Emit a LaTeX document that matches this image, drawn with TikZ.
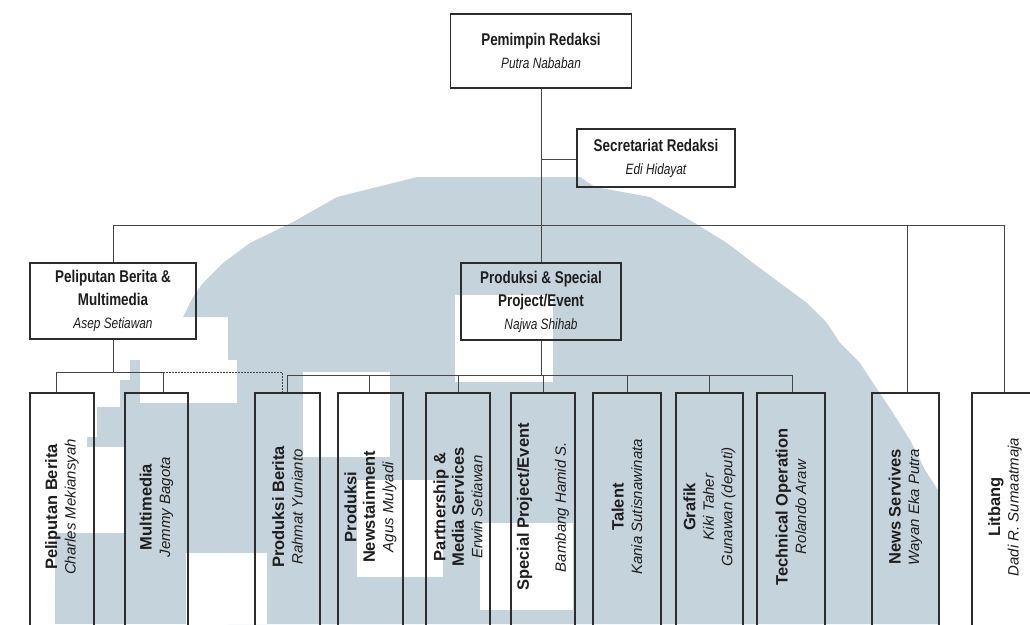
\documentclass[tikz,border=0pt]{standalone}
\usepackage{fontspec}
\setmainfont{Liberation Sans}
\newfontfamily\narrowfont{Liberation Sans}[FakeStretch=0.79]
\definecolor{wm}{RGB}{197,211,220}
\definecolor{ln}{RGB}{70,70,70}
\definecolor{bx}{RGB}{45,45,45}
\definecolor{tx}{RGB}{30,30,30}
\newcommand{\tname}[1]{{\mdseries\itshape\fontsize{15}{23}\selectfont #1}}
\newcommand{\pname}[1]{{\mdseries\itshape\fontsize{15}{18.5}\selectfont #1}}
\tikzset{
  topbox/.style={draw=bx, line width=1.2pt, inner sep=0pt, align=center, text=tx,
    font=\narrowfont\bfseries\fontsize{17}{23}\selectfont},
  vbox/.style={draw=bx, line width=1.3pt, inner sep=0pt, minimum height=247pt},
  vtext/.style={rotate=90, align=center, text=tx, inner sep=0pt,
    font=\bfseries\fontsize{16.5}{18.5}\selectfont},
  conn/.style={draw=ln, line width=0.9pt},
  dotconn/.style={draw=ln, line width=0.9pt, dash pattern=on 1.5pt off 1.5pt}
}
\begin{document}
\begin{tikzpicture}[x=1pt,y=-1pt]
\useasboundingbox (0,0) rectangle (1030,624);
\clip (0,0) rectangle (1030,624);
\fill[white] (0,0) rectangle (1030,624);
% watermark
\fill[wm] (417,177) -- (580,177) -- (595,187) -- (650,197) -- (693,222) -- (727,243)
  -- (753,263) -- (780,283) -- (807,303) -- (827,323) -- (840,343) -- (860,363)
  -- (873,383) -- (893,413) -- (910,440) -- (925,470) -- (938,490) -- (938,624)
  -- (228,624) -- (228,317) -- (183,317) -- (193,297) -- (203,283) -- (223,263)
  -- (250,243) -- (293,222) -- (337,197) -- cycle;
\fill[wm] (120,360) rectangle (228,624);
\fill[wm] (97,407) rectangle (124,447);
\fill[wm] (87,437) rectangle (97,447);
\fill[wm] (55,533) rectangle (124,624);
\fill[white] (140,360) rectangle (237,403);
\fill[white] (120,360) rectangle (130,380);
\fill[white] (93,447) rectangle (124,533);
\fill[white] (186,553) rectangle (267,624);
\fill[white] (303,372) rectangle (390,457);
\fill[white] (357,480) rectangle (443,577);
\fill[white] (455,295) rectangle (553,382);
\fill[white] (480,523) rectangle (573,610);

% top level boxes
\node[topbox, minimum width=181pt, minimum height=74pt] (pr) at (541,51)
  {Pemimpin Redaksi\\\tname{Putra Nababan}};
\node[topbox, minimum width=158pt, minimum height=58pt] (sec) at (656,158)
  {Secretariat Redaksi\\\tname{Edi Hidayat}};
\node[topbox, minimum width=166pt, minimum height=76pt] (pel) at (113,301)
  {Peliputan Berita \&\\Multimedia\\\tname{Asep Setiawan}};
\node[topbox, minimum width=160pt, minimum height=77pt] (prod) at (541,301.5)
  {Produksi \& Special\\Project/Event\\\tname{Najwa Shihab}};

% bottom boxes
\node[vbox, minimum width=64pt] (b1) at (62,516.5) {};
\node[vbox, minimum width=63pt] (b2) at (156.5,516.5) {};
\node[vbox, minimum width=65pt] (b3) at (287.5,516.5) {};
\node[vbox, minimum width=65pt] (b4) at (370.5,516.5) {};
\node[vbox, minimum width=64pt] (b5) at (458,516.5) {};
\node[vbox, minimum width=64pt] (b6) at (543,516.5) {};
\node[vbox, minimum width=68pt] (b7) at (627,516.5) {};
\node[vbox, minimum width=67pt] (b8) at (709.5,516.5) {};
\node[vbox, minimum width=68pt] (b9) at (791,516.5) {};
\node[vbox, minimum width=67pt] (b10) at (905.5,516.5) {};
\node[vbox, minimum width=66pt] (b11) at (1005,516.5) {};

\node[vtext] (t1) at (62,507) {Peliputan Berita\\\pname{Charles Mekiansyah}};
\node[vtext] (t2) at (156.5,507) {Multimedia\\\pname{Jemmy Bagota}};
\node[vtext] (t3) at (287.5,507) {Produksi Berita\\\pname{Rahmat Yunianto}};
\node[vtext] (t4) at (370.5,507) {Produksi\\Newstainment\\\pname{Agus Mulyadi}};
\node[vtext] (t5) at (458,507) {Partnership \&\\Media Services\\\pname{Erwin Setiawan}};
\node[vtext] (t6) at (543,507) {Special Project/Event\\[18.5pt]\pname{Bambang Hamid S.}};
\node[vtext] (t7) at (627,507) {Talent\\\pname{Kania Sutisnawinata}};
\node[vtext] (t8) at (709.5,507) {Grafik\\\pname{Kiki Taher}\\\pname{Gunawan (deputi)}};
\node[vtext] (t9) at (791,507) {Technical Operation\\\pname{Rolando Araw}};
\node[vtext] (t10) at (905.5,507) {News Servives\\\pname{Wayan Eka Putra}};
\node[vtext] (t11) at (1005,507) {Litbang\\\pname{Dadi R. Sumaatmaja}};

% connectors: top
\coordinate (busL) at (113,225);
\coordinate (busM) at (541,225);
\coordinate (busN) at (907,225);
\coordinate (busR) at (1004,225);
\coordinate (secj) at (541,159);
\draw[conn] (pr.south) -- (prod.north);
\draw[conn] (secj) -- (sec.west |- secj);
\draw[conn] (busL) -- (busR);
\draw[conn] (busL) -- (pel.north);
\draw[conn] (busN) -- (busN |- b10.north);
\draw[conn] (busR) -- (busR |- b11.north);

% Peliputan group
\coordinate (pj) at (113,372);
\coordinate (p1) at (56,372);
\coordinate (p2) at (163,372);
\coordinate (pd) at (282,372);
\draw[conn] (pel.south) -- (pj);
\draw[conn] (p1) -- (p2);
\draw[conn] (p1) -- (p1 |- b1.north);
\draw[conn] (p2) -- (p2 |- b2.north);
\draw[dotconn] (p2) -- (pd) -- (pd |- b3.north);

% Produksi group
\coordinate (qj) at (541,375);
\coordinate (q3) at (287,375);
\coordinate (q4) at (369,375);
\coordinate (q5) at (458,375);
\coordinate (q6) at (543,375);
\coordinate (q7) at (627,375);
\coordinate (q8) at (709,375);
\coordinate (q9) at (792,375);
\draw[conn] (prod.south) -- (qj);
\draw[conn] (q3) -- (q9);
\draw[conn] (q3) -- (q3 |- b3.north);
\draw[conn] (q4) -- (q4 |- b4.north);
\draw[conn] (q5) -- (q5 |- b5.north);
\draw[conn] (q6) -- (q6 |- b6.north);
\draw[conn] (q7) -- (q7 |- b7.north);
\draw[conn] (q8) -- (q8 |- b8.north);
\draw[conn] (q9) -- (q9 |- b9.north);
\end{tikzpicture}
\end{document}
